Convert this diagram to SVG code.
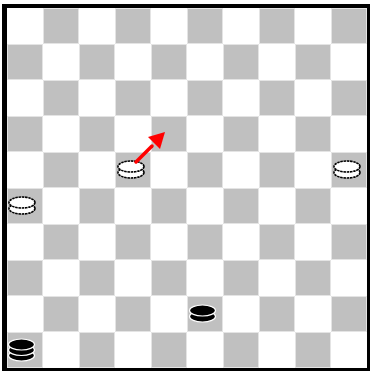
<svg xmlns="http://www.w3.org/2000/svg" xmlns:xlink="http://www.w3.org/1999/xlink" width="370" height="371" viewBox="0 0 370 371">
<defs>
<style>
.g{fill:#c0c0c0;stroke:#e4e4e4;stroke-width:1}
.w{fill:#fff;stroke:#000;stroke-width:1.6;stroke-dasharray:2.5 0.7}
.b{fill:#000;stroke:#fff;stroke-width:1.2}
</style>
<g id="whitePiece">
<ellipse class="w" cx="0" cy="6" rx="13" ry="5.5"/>
<ellipse class="w" cx="0" cy="0" rx="13" ry="5.5"/>
</g>
<g id="blackPiece">
<ellipse class="b" cx="0" cy="6" rx="13" ry="5.5"/>
<ellipse class="b" cx="0" cy="0" rx="13" ry="5.5"/>
</g>
<g id="blackKing">
<ellipse class="b" cx="0" cy="11" rx="13" ry="5.5"/>
<ellipse class="b" cx="0" cy="5.5" rx="13" ry="5.5"/>
<ellipse class="b" cx="0" cy="0" rx="13" ry="5.5"/>
</g>
</defs>
<rect x="2" y="4" width="368" height="367" fill="#000"/>
<rect x="7" y="8" width="360" height="360" fill="#fff"/>
<g id="squares">
<rect class="g" x="43.5" y="8.5" width="35" height="35"/><rect class="g" x="115.5" y="8.5" width="35" height="35"/><rect class="g" x="187.5" y="8.5" width="35" height="35"/><rect class="g" x="259.5" y="8.5" width="35" height="35"/><rect class="g" x="331.5" y="8.5" width="35" height="35"/>
<rect class="g" x="7.5" y="44.5" width="35" height="35"/><rect class="g" x="79.5" y="44.5" width="35" height="35"/><rect class="g" x="151.5" y="44.5" width="35" height="35"/><rect class="g" x="223.5" y="44.5" width="35" height="35"/><rect class="g" x="295.5" y="44.5" width="35" height="35"/>
<rect class="g" x="43.5" y="80.5" width="35" height="35"/><rect class="g" x="115.5" y="80.5" width="35" height="35"/><rect class="g" x="187.5" y="80.5" width="35" height="35"/><rect class="g" x="259.5" y="80.5" width="35" height="35"/><rect class="g" x="331.5" y="80.5" width="35" height="35"/>
<rect class="g" x="7.5" y="116.5" width="35" height="35"/><rect class="g" x="79.5" y="116.5" width="35" height="35"/><rect class="g" x="151.5" y="116.5" width="35" height="35"/><rect class="g" x="223.5" y="116.5" width="35" height="35"/><rect class="g" x="295.5" y="116.5" width="35" height="35"/>
<rect class="g" x="43.5" y="152.5" width="35" height="35"/><rect class="g" x="115.5" y="152.5" width="35" height="35"/><rect class="g" x="187.5" y="152.5" width="35" height="35"/><rect class="g" x="259.5" y="152.5" width="35" height="35"/><rect class="g" x="331.5" y="152.5" width="35" height="35"/>
<rect class="g" x="7.5" y="188.5" width="35" height="35"/><rect class="g" x="79.5" y="188.5" width="35" height="35"/><rect class="g" x="151.5" y="188.5" width="35" height="35"/><rect class="g" x="223.5" y="188.5" width="35" height="35"/><rect class="g" x="295.5" y="188.5" width="35" height="35"/>
<rect class="g" x="43.5" y="224.5" width="35" height="35"/><rect class="g" x="115.5" y="224.5" width="35" height="35"/><rect class="g" x="187.5" y="224.5" width="35" height="35"/><rect class="g" x="259.5" y="224.5" width="35" height="35"/><rect class="g" x="331.5" y="224.5" width="35" height="35"/>
<rect class="g" x="7.5" y="260.5" width="35" height="35"/><rect class="g" x="79.5" y="260.5" width="35" height="35"/><rect class="g" x="151.5" y="260.5" width="35" height="35"/><rect class="g" x="223.5" y="260.5" width="35" height="35"/><rect class="g" x="295.5" y="260.5" width="35" height="35"/>
<rect class="g" x="43.5" y="296.5" width="35" height="35"/><rect class="g" x="115.5" y="296.5" width="35" height="35"/><rect class="g" x="187.5" y="296.5" width="35" height="35"/><rect class="g" x="259.5" y="296.5" width="35" height="35"/><rect class="g" x="331.5" y="296.5" width="35" height="35"/>
<rect class="g" x="7.5" y="332.5" width="35" height="35"/><rect class="g" x="79.5" y="332.5" width="35" height="35"/><rect class="g" x="151.5" y="332.5" width="35" height="35"/><rect class="g" x="223.5" y="332.5" width="35" height="35"/><rect class="g" x="295.5" y="332.5" width="35" height="35"/>
</g>
<g id="pieces">
<use xlink:href="#whitePiece" x="131" y="166.5"/>
<use xlink:href="#whitePiece" x="347" y="166.5"/>
<use xlink:href="#whitePiece" x="22" y="202.5"/>
<use xlink:href="#blackPiece" x="202.5" y="310.5"/>
<use xlink:href="#blackKing" x="21.5" y="344.5"/>
</g>
<g id="move">
<line x1="136" y1="162" x2="152" y2="146" stroke="#f00" stroke-width="3.5" stroke-linecap="round"/>
<polygon points="165,132 160,149 148,137" fill="#f00"/>
</g>
</svg>
